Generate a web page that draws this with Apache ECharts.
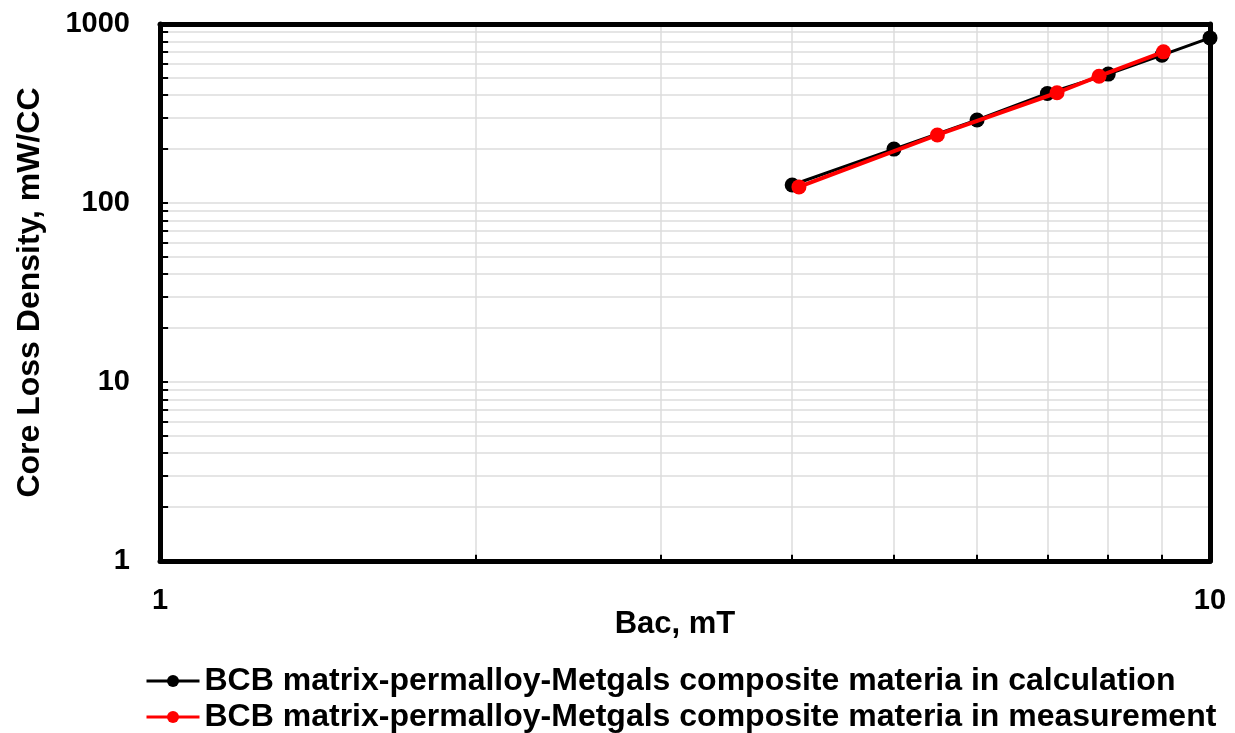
<!DOCTYPE html>
<html><head><meta charset="utf-8">
<script src="https://cdn.jsdelivr.net/npm/echarts@6/dist/echarts.min.js"></script>
<style>html,body{margin:0;padding:0;background:#fff}#c{width:1235px;height:733px}</style>
</head><body><div id="c"></div>
<script>
const calcX = [4, 5, 6, 7, 8, 9, 10];
const calcY = [126, 200, 291, 409, 525, 670, 836];
const measX = [4.06, 5.5, 7.15, 7.84, 9.03];
const measY = [123, 240, 413, 511, 699];
const xMinorGrid = [2, 3, 4, 5, 6, 7, 8, 9];
const yMinorGrid = [2, 3, 4, 5, 6, 7, 8, 9, 20, 30, 40, 50, 60, 70, 80, 90, 200, 300, 400, 500, 600, 700, 800, 900];
const nameCalc = 'BCB matrix-permalloy-Metgals composite materia in calculation';
const nameMeas = 'BCB matrix-permalloy-Metgals composite materia in measurement';

const font = 'Liberation Sans, Arial, sans-serif';
const X_MIN = 1, X_MAX = 10, Y_MIN = 1, Y_MAX = 1000;
const TICK_X_FACTOR = 1.018;  // inner tick length on the left axis (multiplicative, log scale)
const TICK_Y_FACTOR = 1.085;  // inner tick length on the bottom axis

const gridLines = [];
xMinorGrid.forEach(v => gridLines.push({ xAxis: v }));
yMinorGrid.forEach(v => gridLines.push({ yAxis: v }));
const tickLines = [];
yMinorGrid.forEach(v => tickLines.push([{ coord: [X_MIN, v] }, { coord: [X_MIN * TICK_X_FACTOR, v] }]));
xMinorGrid.forEach(v => tickLines.push([{ coord: [v, Y_MIN] }, { coord: [v, Y_MIN * TICK_Y_FACTOR] }]));

const axisLineStyle = { lineStyle: { color: '#000', width: 5 } };
const lbl = { fontFamily: font, fontWeight: 'bold', fontSize: 29, color: '#000' };

const chart = echarts.init(document.getElementById('c'));
chart.setOption({
  animation: false,
  grid: { left: 160, right: 25, top: 24, bottom: 172, show: false },
  legend: {
    orient: 'vertical', left: 145, top: 665, padding: 0, height: 68,
    itemWidth: 53, itemHeight: 15, itemGap: 4,
    lineStyle: { width: 3 },
    textStyle: { fontFamily: font, fontWeight: 'bold', fontSize: 32, color: '#000', lineHeight: 32 },
    data: [nameCalc, nameMeas]
  },
  xAxis: [{
    type: 'log', logBase: 10, min: X_MIN, max: X_MAX, z: 5,
    name: 'Bac, mT', nameLocation: 'middle', nameGap: 48, nameMoveOverlap: false,
    nameTextStyle: { fontFamily: font, fontWeight: 'bold', fontSize: 31, color: '#000', padding: [0, 20, 0, 0] },
    axisLine: axisLineStyle,
    axisTick: { show: false },
    axisLabel: Object.assign({ margin: 25, formatter: v => String(v) }, lbl),
    splitLine: { show: false }
  }, {
    type: 'log', logBase: 10, min: X_MIN, max: X_MAX, position: 'top', z: 5,
    axisLine: axisLineStyle, axisTick: { show: false }, axisLabel: { show: false }, splitLine: { show: false }
  }],
  yAxis: [{
    type: 'log', logBase: 10, min: Y_MIN, max: Y_MAX, z: 5,
    name: 'Core Loss Density, mW/CC', nameLocation: 'middle', nameGap: 114, nameMoveOverlap: false,
    nameTextStyle: { fontFamily: font, fontWeight: 'bold', fontSize: 32, color: '#000' },
    axisLine: axisLineStyle,
    axisTick: { show: true, inside: true, length: 8, lineStyle: { color: '#000', width: 2 } },
    axisLabel: Object.assign({ margin: 30, formatter: v => String(v) }, lbl),
    splitLine: { show: true, showMinLine: false, showMaxLine: false, lineStyle: { color: '#dcdcdc', width: 1.5 } }
  }, {
    type: 'log', logBase: 10, min: Y_MIN, max: Y_MAX, position: 'right', z: 5,
    axisLine: axisLineStyle, axisTick: { show: false }, axisLabel: { show: false }, splitLine: { show: false }
  }],
  series: [
    {
      name: nameCalc, type: 'line', data: calcX.map((x, i) => [x, calcY[i]]),
      symbol: 'circle', symbolSize: 15, z: 3,
      lineStyle: { color: '#000', width: 3 }, itemStyle: { color: '#000' },
      markLine: {
        silent: true, symbol: 'none', label: { show: false }, z: 1,
        lineStyle: { color: '#dcdcdc', width: 1.5, type: 'solid' },
        data: gridLines
      }
    },
    {
      name: nameMeas, type: 'line', data: measX.map((x, i) => [x, measY[i]]),
      symbol: 'circle', symbolSize: 15, z: 4,
      lineStyle: { color: '#ff0000', width: 4 }, itemStyle: { color: '#ff0000' },
      markLine: {
        silent: true, symbol: 'none', label: { show: false }, z: 2,
        lineStyle: { color: '#000', width: 2, type: 'solid' },
        data: tickLines
      }
    }
  ]
});
</script></body></html>
